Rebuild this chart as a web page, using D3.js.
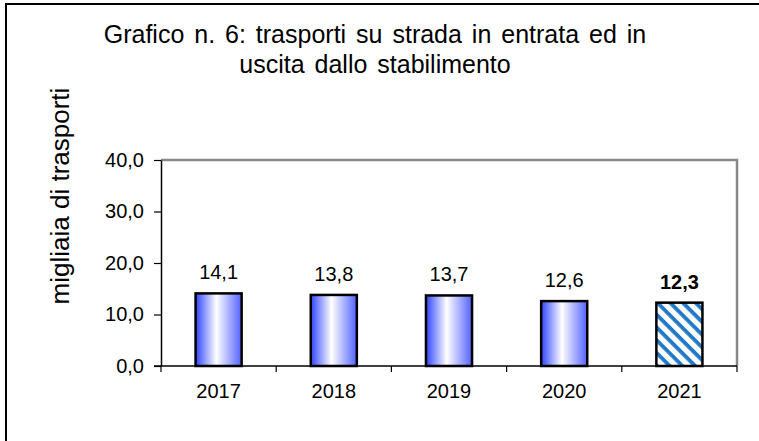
<!DOCTYPE html>
<html>
<head>
<meta charset="utf-8">
<script src="https://cdn.jsdelivr.net/npm/d3@7"></script>
<style>
  body { margin: 0; background: #fff; }
  svg { display: block; font-family: "Liberation Sans", Arial, sans-serif; }
</style>
</head>
<body>
<div id="output"></div>
<script>
// chart data
const years = ["2017", "2018", "2019", "2020", "2021"];
const values = [14.1, 13.8, 13.7, 12.6, 12.3];
const yTicks = [0, 10, 20, 30, 40];
const titleLines = ["Grafico n. 6: trasporti su strada in entrata ed in", "uscita dallo stabilimento"];
const yTitle = "migliaia di trasporti";

const W = 759, H = 441;
const margin = { top: 160, right: 22, bottom: 75, left: 161 };
const width = W - margin.left - margin.right;
const height = H - margin.top - margin.bottom;

const fmt = v => v.toFixed(1).replace(".", ",");

const svg = d3.select("#output").append("svg")
    .attr("width", W)
    .attr("height", H);

const defs = svg.append("defs");

// horizontal blue-white-blue gradient for normal bars
const grad = defs.append("linearGradient")
    .attr("id", "barGrad")
    .attr("x1", "0%").attr("x2", "100%")
    .attr("y1", "0%").attr("y2", "0%");
grad.append("stop").attr("offset", "0%").attr("stop-color", "#2f44ff");
grad.append("stop").attr("offset", "45%").attr("stop-color", "#ffffff");
grad.append("stop").attr("offset", "100%").attr("stop-color", "#5262ff");

// diagonal stripes for last year
const pat = defs.append("pattern")
    .attr("id", "stripes")
    .attr("patternUnits", "userSpaceOnUse")
    .attr("width", 9).attr("height", 9)
    .attr("patternTransform", "rotate(45)");
pat.append("rect").attr("width", 9).attr("height", 9).attr("fill", "#fff");
pat.append("rect").attr("width", 9).attr("height", 3.8).attr("fill", "#1f78c8");

// outer frame (only left/top visible in reference)
svg.append("rect")
    .attr("x", 6).attr("y", 4)
    .attr("width", W + 20).attr("height", H + 20)
    .attr("fill", "none")
    .attr("stroke", "#000")
    .attr("stroke-width", 2);

// title
const title = svg.append("text")
    .attr("text-anchor", "middle")
    .style("font-size", "25px")
    .style("word-spacing", "3px")
    .attr("fill", "#000");
titleLines.forEach((t, i) => {
  title.append("tspan")
      .attr("x", 375)
      .attr("y", 43 + i * 30)
      .text(t);
});

// y axis title
svg.append("text")
    .attr("transform", `translate(69,196) rotate(-90)`)
    .attr("text-anchor", "middle")
    .style("font-size", "26px")
    .text(yTitle);

const g = svg.append("g")
    .attr("transform", `translate(${margin.left},${margin.top})`);

const x = d3.scaleBand()
    .domain(years)
    .range([0, width])
    .paddingInner(0.6)
    .paddingOuter(0.3);

const y = d3.scaleLinear()
    .domain([0, 40])
    .range([height, 0]);

// gray top/right frame of plot area
g.append("path")
    .attr("d", `M0,0H${width}V${height}`)
    .attr("fill", "none")
    .attr("stroke", "#888")
    .attr("stroke-width", 2.5);

// bars
g.selectAll(".bar")
    .data(values)
    .enter().append("rect")
    .attr("class", "bar")
    .attr("x", (d, i) => x(years[i]))
    .attr("y", d => y(d))
    .attr("width", x.bandwidth())
    .attr("height", d => y(0) - y(d))
    .attr("fill", (d, i) => i === values.length - 1 ? "url(#stripes)" : "url(#barGrad)")
    .attr("stroke", "#000")
    .attr("stroke-width", 2.5);

// value labels
g.selectAll(".val")
    .data(values)
    .enter().append("text")
    .attr("class", "val")
    .attr("x", (d, i) => x(years[i]) + x.bandwidth() / 2)
    .attr("y", d => y(d) - 14)
    .attr("text-anchor", "middle")
    .style("font-size", "20px")
    .style("font-weight", (d, i) => i === values.length - 1 ? "bold" : "normal")
    .text(d => fmt(d));

// y axis
const yAxis = g.append("g")
    .call(d3.axisLeft(y).tickValues(yTicks).tickFormat(fmt).tickSize(7).tickSizeOuter(0));
yAxis.select(".domain").attr("stroke", "#000").attr("stroke-width", 1.5);
yAxis.selectAll(".tick line").attr("stroke", "#000").attr("stroke-width", 1.2);
yAxis.selectAll(".tick text")
    .style("font-size", "20px")
    .style("font-family", "'Liberation Sans', Arial, sans-serif")
    .attr("fill", "#000")
    .attr("x", -17);

// x axis with ticks at band boundaries
const xAxisG = g.append("g")
    .attr("transform", `translate(0,${height})`);
xAxisG.append("line")
    .attr("x1", -7).attr("x2", width)
    .attr("stroke", "#000").attr("stroke-width", 1.5);
const step = x.step();
const bounds = years.map((d, i) => i).concat([years.length]);
xAxisG.selectAll(".xt")
    .data(bounds)
    .enter().append("line")
    .attr("class", "xt")
    .attr("x1", i => i * step).attr("x2", i => i * step)
    .attr("y1", 0).attr("y2", 6)
    .attr("stroke", "#000").attr("stroke-width", 1.2);
xAxisG.selectAll(".xl")
    .data(years)
    .enter().append("text")
    .attr("class", "xl")
    .attr("x", d => x(d) + x.bandwidth() / 2)
    .attr("y", 32)
    .attr("text-anchor", "middle")
    .style("font-size", "20px")
    .text(d => d);
</script>
</body>
</html>
